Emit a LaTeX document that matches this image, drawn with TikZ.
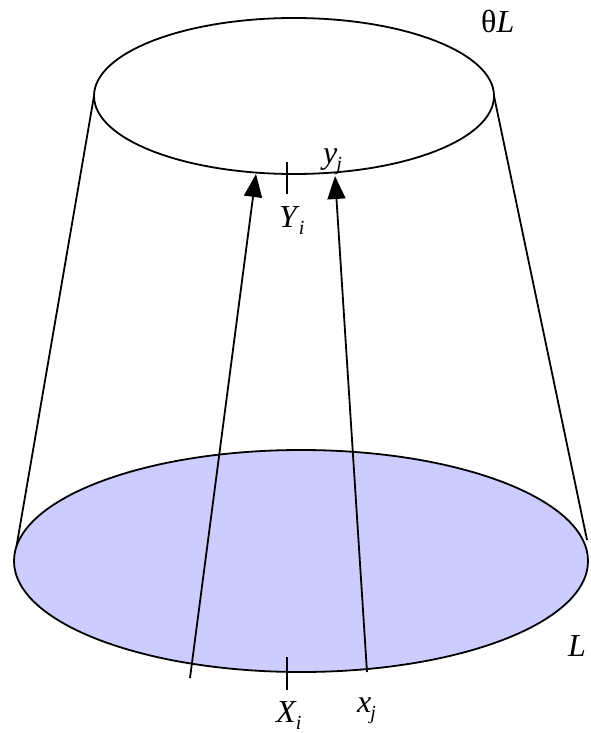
\documentclass[tikz,border=0pt]{standalone}
\usepackage{fontspec}
\setmainfont{Liberation Serif}
\usetikzlibrary{arrows.meta}
\newcommand{\lbl}[2]{\textit{#1}\kern-1pt\raisebox{-7pt}{\fontsize{20}{20}\selectfont\textit{#2}}}
\begin{document}
\begin{tikzpicture}[x=1pt,y=-1pt,
  edge/.style={line width=1.8pt},
  arr/.style={line width=1.8pt,-{Triangle[length=23pt,width=18pt]}},
  lab/.style={anchor=base west,inner sep=0pt,font=\fontsize{32}{34}\selectfont}]
\useasboundingbox (0,0) rectangle (591,733);
% side lines
\coordinate (tl) at (94,96);
\coordinate (tr) at (494,96);
\coordinate (bl) at (15,555);
\coordinate (br) at (587,540);
\draw[edge] (tl) -- (bl);
\draw[edge] (tr) -- (br);
% top ellipse
\draw[edge] (294,96) ellipse [x radius=200, y radius=78];
% bottom ellipse
\draw[edge,fill={rgb,255:red,204;green,204;blue,255}] (301,561) ellipse [x radius=287, y radius=111];
% ticks
\coordinate (ta) at (287,162);
\coordinate (tb) at (287,194);
\coordinate (ba) at (287,657);
\coordinate (bb) at (287,690);
\draw[edge] (ta) -- (tb);
\draw[edge] (ba) -- (bb);
% arrows
\coordinate (a1s) at (190,678);
\coordinate (a1e) at (256,174);
\coordinate (a2s) at (367,672);
\coordinate (a2e) at (335,176);
\draw[arr] (a1s) -- (a1e);
\draw[arr] (a2s) -- (a2e);
% labels
\node[lab] (yj) at (323,163) {\lbl{y}{j}};
\node[lab] (Yi) at (279,227) {\lbl{Y}{i}};
\node[lab] (Xi) at (276,722) {\lbl{X}{i}};
\node[lab] (xj) at (357,712) {\lbl{x}{j}};
\node[lab] (tL) at (481,33) {θ\textit{L}};
\node[lab] (L) at (568,656) {\textit{L}};
\end{tikzpicture}
\end{document}
